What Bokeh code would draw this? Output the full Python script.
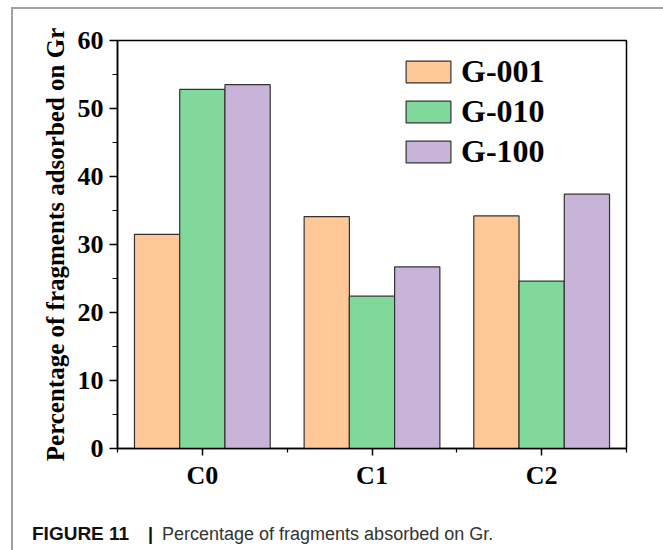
from bokeh.plotting import figure
from bokeh.models import (ColumnDataSource, Range1d, FixedTicker, Legend, LegendItem, Div)
from bokeh.layouts import column
from bokeh.transform import dodge
from bokeh.embed import file_html
from bokeh.resources import INLINE

# data
categories = ["C0", "C1", "C2"]
series = ["G-001", "G-010", "G-100"]
g001 = [31.5, 34.1, 34.2]
g010 = [52.8, 22.4, 24.6]
g100 = [53.5, 26.7, 37.4]
y_ticks = [0, 10, 20, 30, 40, 50, 60]
y_minor = [5, 15, 25, 35, 45, 55]

colors = ["#FFC896", "#80D89B", "#C8B4D8"]
positions = list(range(1, len(categories) + 1))
bar_w = 0.8 / len(series)

src = ColumnDataSource(dict(x=positions, g001=g001, g010=g010, g100=g100))

p = figure(width=648, height=496, output_backend="svg", toolbar_location=None,
           x_range=Range1d(0.5, len(categories) + 0.5), y_range=Range1d(0, 60),
           min_border_left=104, min_border_right=35, min_border_top=31,
           min_border_bottom=57)
p.background_fill_color = "white"
p.border_fill_color = "white"
p.grid.visible = False
p.outline_line_color = "black"
p.outline_line_width = 1.5

renderers = []
for i, (col, colr) in enumerate(zip(["g001", "g010", "g100"], colors)):
    off = (i - 1) * bar_w
    r = p.vbar(x=dodge("x", off), top=col, width=bar_w, bottom=0, source=src,
               fill_color=colr, line_color="#333333", line_width=1.2)
    renderers.append(r)

serif = "Liberation Serif"
for ax in (p.xaxis[0], p.yaxis[0]):
    ax.axis_line_color = "black"
    ax.axis_line_width = 1.5
    ax.major_tick_line_color = "black"
    ax.minor_tick_line_color = "black"
    ax.major_tick_line_width = 1.5
    ax.minor_tick_line_width = 1.2
    ax.major_tick_in = 0
    ax.minor_tick_in = 0
    ax.major_label_text_font = serif
    ax.major_label_text_font_style = "bold"
    ax.major_label_text_font_size = "26px"
    ax.major_label_text_color = "black"

p.xaxis.ticker = FixedTicker(ticks=positions,
                             minor_ticks=[k - 0.5 for k in positions] + [positions[-1] + 0.5])
p.xaxis.major_label_overrides = dict(zip(positions, categories))
p.xaxis.major_tick_out = 7
p.xaxis.minor_tick_out = 4
p.xaxis.major_label_standoff = 5

p.yaxis.ticker = FixedTicker(ticks=y_ticks, minor_ticks=y_minor)
p.yaxis.major_tick_out = 8
p.yaxis.minor_tick_out = 5
p.yaxis.major_label_standoff = 6
p.yaxis.axis_label = "Percentage of fragments adsorbed on Gr"
p.yaxis.axis_label_text_font = serif
p.yaxis.axis_label_text_font_style = "bold"
p.yaxis.axis_label_text_font_size = "25px"
p.yaxis.axis_label_text_color = "black"
p.yaxis.axis_label_standoff = 6

legend = Legend(items=[LegendItem(label=s, renderers=[r]) for s, r in zip(series, renderers)],
                location=(283, 278), glyph_width=56, glyph_height=27, label_height=27,
                spacing=3, padding=0, margin=0, label_standoff=5,
                border_line_color=None, background_fill_alpha=0,
                label_text_font=serif, label_text_font_style="bold",
                label_text_font_size="32px", label_text_color="black")
p.add_layout(legend, "center")

# caption strip under the chart
caption_html = (
    '<div style="position:relative; width:648px; height:44px; '
    'font-family: \'Liberation Sans\', Arial, sans-serif; font-size:18px; line-height:22px;">'
    '<span style="position:absolute; left:14px; top:13px; font-weight:bold; '
    'font-size:19px; color:#111;">FIGURE 11</span>'
    '<span style="position:absolute; left:130px; top:13px; font-weight:bold; '
    'color:#111;">|</span>'
    '<span style="position:absolute; left:144px; top:13px; color:#333;">'
    'Percentage of fragments absorbed on Gr.</span>'
    '</div>'
)
caption = Div(text=caption_html, width=648, height=44)

page = column(p, caption, margin=(7, 0, 0, 11),
              styles={"border-left": "2px solid #A0A0A0",
                      "border-top": "2px solid #A0A0A0",
                      "border-right": "2px solid #A0A0A0",
                      "background-color": "white"})

open("out.html", "w").write(file_html(page, INLINE))
